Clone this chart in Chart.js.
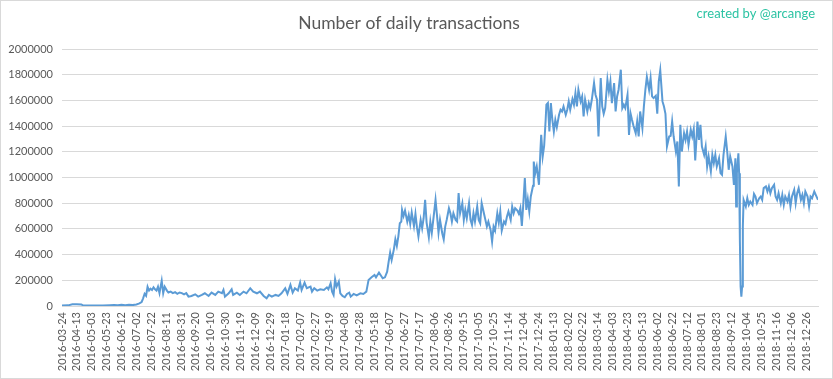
<!DOCTYPE html>
<html><head><meta charset="utf-8">
<script src="https://cdn.jsdelivr.net/npm/chart.js@4"></script>
<style>html,body{margin:0;padding:0;background:#fff;}#wrap{width:833px;height:379px;position:relative;}</style>
</head><body><div id="wrap"><canvas id="c" width="833" height="379"></canvas></div>
<script>
const chartTitle = "Number of daily transactions";
const creditText = "created by @arcange";
const tickLabels = ["2016-03-24","2016-04-13","2016-05-03","2016-05-23","2016-06-12","2016-07-02","2016-07-22","2016-08-11","2016-08-31","2016-09-20","2016-10-10","2016-10-30","2016-11-19","2016-12-09","2016-12-29","2017-01-18","2017-02-07","2017-02-27","2017-03-19","2017-04-08","2017-04-28","2017-05-18","2017-06-07","2017-06-27","2017-07-17","2017-08-06","2017-08-26","2017-09-15","2017-10-05","2017-10-25","2017-11-14","2017-12-04","2017-12-24","2018-01-13","2018-02-02","2018-02-22","2018-03-14","2018-04-03","2018-04-23","2018-05-13","2018-06-02","2018-06-22","2018-07-12","2018-08-01","2018-08-23","2018-09-12","2018-10-04","2018-10-25","2018-11-16","2018-12-06","2018-12-26"];
const dayIndex = [0,8,14,20,26,28,40,55,64,70,75,80,85,90,95,100,104,107,109,111,113,115,117,119,121,123,125,127,129,131,134,136,138,141,143,146,149,152,155,158,161,164,167,
170,174,179,183,188,192,197,201,206,210,215,217,219,224,228,230,235,239,244,248,253,257,262,266,271,275,278,282,287,291,295,300,303,307,310,313,317,320,322,326,329,334,
336,339,343,347,352,356,358,361,363,365,367,369,372,374,377,380,383,386,388,392,396,401,405,409,412,416,420,422,426,429,431,434,437,439,441,443,446,448,450,452,454,456,457,459,461,464,466,468,470,473,475,477,479,482,484,486,488,490,493,495,497,500,502,504,506,
508,511,513,515,517,520,522,524,526,529,531,533,535,538,540,542,544,547,549,551,553,555,558,560,562,564,567,569,571,573,576,578,580,582,585,587,589,591,594,596,598,600,603,605,607,609,612,614,616,618,620,622,624,626,628,630,633,634,636,638,641,643,644,646,648,650,651,653,655,657,659,661,663,665,668,670,672,674,677,
679,681,683,686,688,690,692,694,697,699,701,703,706,708,710,712,715,717,719,721,724,726,728,730,733,735,737,739,742,744,746,748,751,753,755,757,760,762,764,766,768,771,773,775,777,780,782,784,786,789,791,793,795,798,800,802,804,807,809,811,813,816,818,820,822,825,827,829,831,833,836,838,840,
842,845,847,849,851,854,856,858,860,863,865,867,869,872,874,876,878,880,883,885,887,889,892,894,896,898,901,903,905,906,907,909,910,911,912,913,914,915,916,919,921,923,925,928,930,932,934,937,939,941,943,946,948,950,952,954,957,959,961,963,966,968,970,972,975,977,979,981,984,986,988,990,993,995,997,999,1002,1004,1006,1008,1011,1013,1016];
const transactions = [4000,5000,13000,14000,12000,5000,3000,4000,6000,8000,5000,9000,6000,10000,7000,12000,20000,30000,60000,95000,80000,150000,120000,135000,125000,145000,130000,120000,150000,100000,197000,100000,150000,120000,105000,112000,100000,108000,95000,105000,100000,90000,100000,
73000,78000,91000,73000,86000,99000,78000,104000,86000,112000,99000,125000,73000,99000,130000,86000,104000,86000,112000,99000,138000,112000,99000,112000,78000,60000,86000,73000,86000,78000,99000,138000,94000,164000,104000,138000,120000,182000,125000,182000,138000,151000,
112000,138000,120000,130000,125000,145000,130000,177000,112000,86000,208000,151000,190000,99000,78000,68000,94000,104000,73000,94000,83000,99000,94000,112000,203000,223000,242000,223000,260000,234000,216000,223000,267000,345000,416000,358000,441000,519000,467000,540000,644000,657000,748000,701000,743000,657000,709000,639000,727000,623000,717000,613000,540000,670000,605000,683000,826000,649000,535000,657000,571000,722000,826000,701000,571000,
670000,566000,519000,618000,670000,761000,722000,657000,722000,670000,657000,878000,722000,800000,670000,748000,683000,800000,670000,631000,722000,657000,774000,670000,644000,800000,722000,670000,618000,657000,592000,501000,618000,587000,722000,649000,735000,587000,657000,639000,696000,735000,670000,774000,722000,761000,743000,717000,761000,623000,800000,995000,748000,831000,735000,852000,935000,1124000,1034000,1086000,943000,1215000,1332000,1163000,1247000,1449000,1566000,1579000,1358000,1579000,1449000,1358000,1449000,1392000,1488000,1527000,1514000,1553000,1488000,
1527000,1592000,1527000,1610000,1566000,1657000,1553000,1683000,1592000,1631000,1475000,1605000,1514000,1579000,1540000,1605000,1735000,1644000,1605000,1319000,1774000,1553000,1496000,1540000,1761000,1670000,1748000,1579000,1735000,1514000,1631000,1683000,1839000,1540000,1566000,1540000,1644000,1332000,1501000,1449000,1402000,1345000,1436000,1319000,1514000,1384000,1553000,1683000,1782000,1683000,1774000,1631000,1618000,1636000,1496000,1748000,1834000,1592000,1553000,1496000,1241000,1319000,1324000,1436000,1319000,1202000,1280000,930000,1410000,1202000,1345000,1293000,1358000,
1254000,1371000,1319000,1376000,1132000,1436000,1293000,1410000,1241000,1176000,1241000,1086000,1163000,1047000,1176000,1112000,1176000,1086000,1150000,1034000,1021000,1176000,1319000,1202000,1060000,1163000,1086000,943000,1150000,774000,1034000,1189000,1034000,514000,151000,73000,151000,618000,826000,774000,839000,787000,813000,787000,873000,852000,800000,839000,852000,826000,917000,930000,891000,930000,878000,917000,943000,852000,826000,878000,800000,865000,787000,852000,813000,865000,774000,852000,904000,800000,878000,917000,826000,865000,800000,891000,852000,774000,852000,839000,891000,865000,826000];
const yMin = 0, yMax = 2000000, yStep = 200000;

const FONT = 'Lato, "Open Sans", sans-serif';
const points = dayIndex.map((d, i) => ({ x: d, y: transactions[i] }));

const decor = {
  id: 'decor',
  afterDraw(chart) {
    const ctx = chart.ctx;
    ctx.save();
    ctx.strokeStyle = '#d9d9d9';
    ctx.lineWidth = 1;
    ctx.strokeRect(0.5, 0.5, chart.width - 1, chart.height - 1);
    ctx.font = '13px ' + FONT;
    ctx.fillStyle = '#2cc3a3';
    ctx.textAlign = 'right';
    ctx.textBaseline = 'middle';
    ctx.fillText(creditText, 815, 14);
    ctx.restore();
  }
};

new Chart(document.getElementById('c'), {
  type: 'line',
  data: { datasets: [{ data: points, borderColor: '#5b9bd5', borderWidth: 2, pointRadius: 0, tension: 0, fill: false }] },
  options: {
    responsive: false, animation: false,
    layout: { padding: { left: 0, right: 15, top: 0, bottom: 0 } },
    plugins: {
      legend: { display: false }, tooltip: { enabled: false },
      title: { display: true, text: chartTitle, color: '#595959', font: { family: FONT, size: 17.5, weight: 'normal' }, padding: { top: 13, bottom: 15 } }
    },
    scales: {
      x: {
        type: 'linear', min: 0, max: dayIndex[dayIndex.length - 1],
        afterBuildTicks: s => { s.ticks = tickLabels.map((l, i) => ({ value: i * 20 })); },
        afterFit: s => { s.height = 73; },
        ticks: { autoSkip: false, maxRotation: 90, minRotation: 90, padding: 6, color: '#595959', font: { family: FONT, size: 11 },
          callback: v => tickLabels[Math.round(v / 20)] ?? '' },
        grid: { display: false, drawTicks: false },
        border: { display: true, color: '#d9d9d9', width: 1 }
      },
      y: {
        min: yMin, max: yMax,
        afterFit: s => { s.width = 62; },
        ticks: { stepSize: yStep, padding: 9, color: '#595959', font: { family: FONT, size: 11 }, callback: v => String(v) },
        grid: { color: '#d9d9d9', drawTicks: false },
        border: { display: false }
      }
    }
  },
  plugins: [decor]
});
</script></body></html>
